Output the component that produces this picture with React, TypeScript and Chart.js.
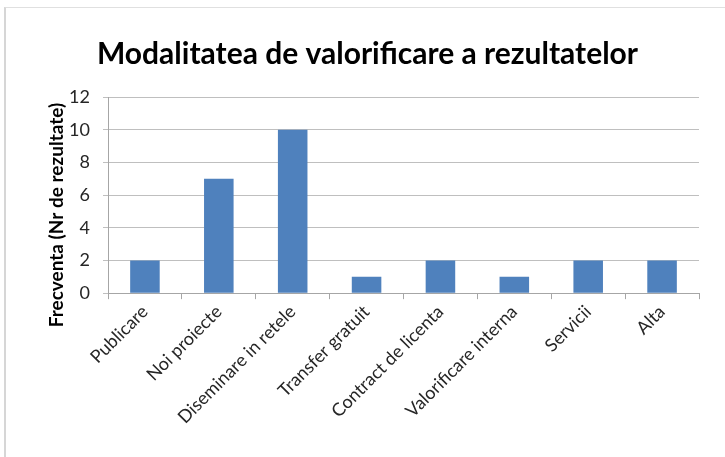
import React, { useEffect, useRef } from "react";
import { Chart, registerables } from "chart.js";

Chart.register(...registerables);

const titleText = "Modalitatea de valorificare a rezultatelor";
const yAxisTitle = "Frecventa (Nr de rezultate)";
const categories = [
  "Publicare",
  "Noi proiecte",
  "Diseminare in retele",
  "Transfer gratuit",
  "Contract de licenta",
  "Valorificare interna",
  "Servicii",
  "Alta",
];
const values = [2, 7, 10, 1, 2, 1, 2, 2];
const yMin = 0;
const yMax = 12;
const yStep = 2;

const yTitleFont = "bold 19px Lato";

const yTitlePlugin = {
  id: "yTitlePlugin",
  afterDraw(chart: any) {
    const { ctx, chartArea } = chart;
    const yScale = chart.scales.y;
    ctx.save();
    ctx.font = yTitleFont;
    ctx.fillStyle = "#000000";
    ctx.textAlign = "center";
    ctx.textBaseline = "middle";
    const x = yScale.left + 21;
    const y = (chartArea.top + chartArea.bottom) / 2 + 20;
    ctx.translate(x, y);
    ctx.rotate(-Math.PI / 2);
    ctx.fillText(yAxisTitle, 0, 0);
    ctx.restore();
  },
};

export default function App() {
  const ref = useRef<HTMLCanvasElement | null>(null);
  useEffect(() => {
    if (!ref.current) return;
    const chart = new Chart(ref.current, {
      type: "bar",
      data: {
        labels: categories,
        datasets: [
          {
            data: values,
            backgroundColor: "#4f81bd",
            borderColor: "#4f81bd",
            borderWidth: 0,
            barPercentage: 0.4,
            categoryPercentage: 1,
          },
        ],
      },
      plugins: [yTitlePlugin],
      options: {
        animation: false,
        responsive: true,
        maintainAspectRatio: false,
        layout: { padding: { left: 36, right: 26, top: 36, bottom: 27 } },
        plugins: {
          legend: { display: false },
          tooltip: { enabled: false },
          title: {
            display: true,
            text: titleText,
            color: "#000000",
            font: { family: "Lato", size: 30, weight: "bold" },
            padding: { top: 0, bottom: 25 },
          },
        },
        scales: {
          x: {
            offset: true,
            grid: {
              offset: true,
              drawOnChartArea: false,
              drawTicks: true,
              tickLength: 6,
              color: "#a6a6a6",
            },
            border: { color: "#a6a6a6" },
            ticks: {
              minRotation: 45,
              maxRotation: 45,
              color: "#262626",
              font: { family: "Lato", size: 18 },
              padding: 2,
            },
          },
          y: {
            min: yMin,
            max: yMax,
            afterFit(scale: any) {
              scale.width = 72;
            },
            grid: { color: "#bfbfbf", tickLength: 5 },
            border: { color: "#a6a6a6" },
            ticks: {
              stepSize: yStep,
              color: "#262626",
              font: { family: "Lato", size: 18 },
              padding: 13,
            },
          },
        },
      },
    });
    return () => chart.destroy();
  }, []);
  return (
    <div
      style={{
        position: "fixed",
        left: 0,
        top: 0,
        width: 725,
        height: 457,
        background: "#ffffff",
      }}
    >
      <div
        style={{
          position: "absolute",
          left: 4,
          top: 7,
          right: -2,
          bottom: -2,
          borderTop: "1px solid #e0e0e0",
          borderLeft: "2px solid #d6d6d6",
        }}
      />
      <canvas ref={ref} />
    </div>
  );
}
